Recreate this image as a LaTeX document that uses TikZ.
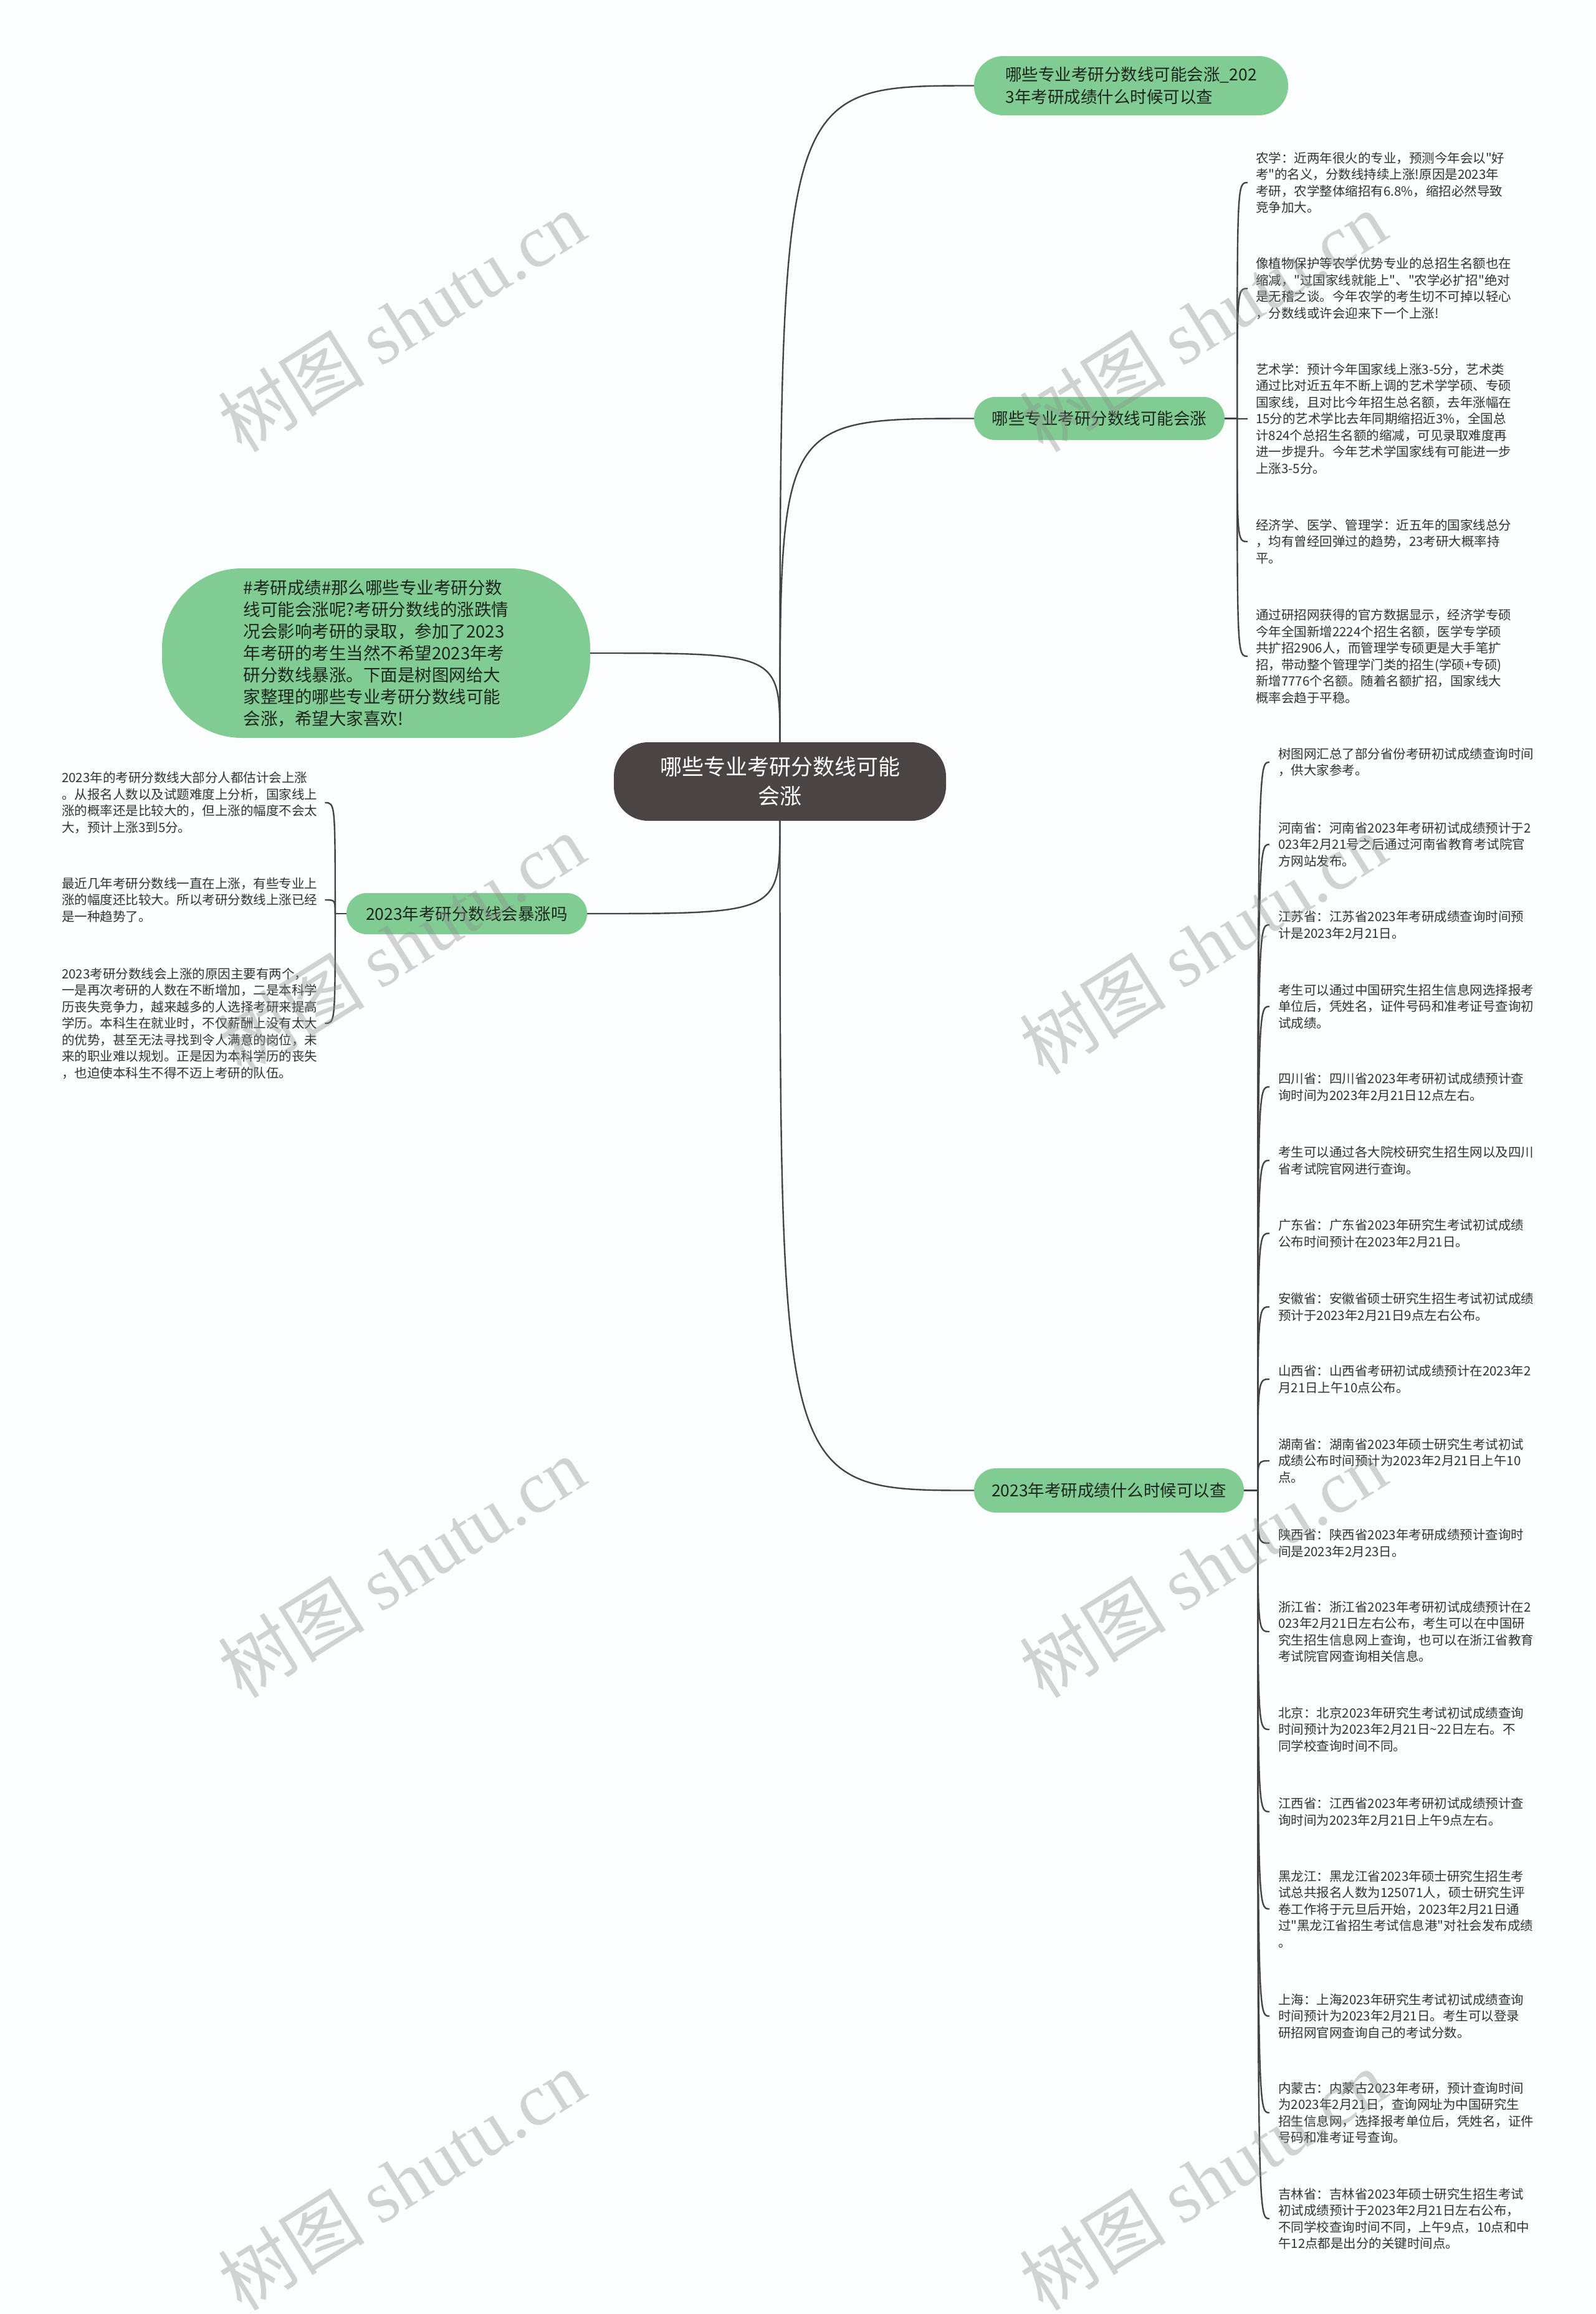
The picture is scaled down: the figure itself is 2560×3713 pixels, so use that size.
\documentclass[tikz,border=0pt]{standalone}
\usepackage{fontspec}
\setmainfont{Noto Sans CJK SC}[Ligatures=TeXOff]
\newfontfamily\wmserif{Liberation Serif}
\usetikzlibrary{calc}
\definecolor{bgc}{HTML}{FBFDFE}
\definecolor{gnode}{HTML}{80CC92}
\definecolor{dnode}{HTML}{4A4445}
\definecolor{edgec}{HTML}{444444}
\definecolor{leaftext}{HTML}{333333}
\definecolor{gtext}{HTML}{1E261F}
\definecolor{wmc}{HTML}{8F8F8F}
\tikzset{
  edge/.style={draw=edgec, line width=2.4},
  centernode/.style={fill=dnode, text=white, rounded corners=55, minimum width=533, minimum height=126, align=center, font=\fontsize{35}{47}\selectfont, inner sep=0},
  bignode/.style={fill=gnode, text=gtext, rounded corners=128, minimum width=687, minimum height=272, align=left, font=\fontsize{27.5}{35}\selectfont, inner sep=0},
  branch/.style={fill=gnode, text=gtext, align=left, font=\fontsize{26.5}{35.5}\selectfont, inner sep=0},
  leaf/.style={anchor=west, align=left, inner sep=0, text=leaftext, font=\fontsize{20.5}{26.5}\selectfont},
  wm/.style={rotate=32, text=wmc, text opacity=0.38, font=\fontsize{118}{130}\selectfont, inner sep=0},
}
\newcommand\mylink[2]{\draw[edge] (#1) .. controls (#1 |- #2) and (#1 |- #2) .. (#2);}
\begin{document}
\begin{tikzpicture}[x=1pt,y=-1pt]
\fill[bgc] (0,0) rectangle (2560,3713);
\useasboundingbox (0,0) rectangle (2560,3713);

% central node
\node[centernode] (c) at (1251.5,1254) {哪些专业考研分数线可能\\会涨};

% left big node
\node[bignode] (big) at (603.5,1048) {\#考研成绩\#那么哪些专业考研分数\\线可能会涨呢?考研分数线的涨跌情\\况会影响考研的录取，参加了2023\\年考研的考生当然不希望2023年考\\研分数线暴涨。下面是树图网给大\\家整理的哪些专业考研分数线可能\\会涨，希望大家喜欢!};

% branches
\node[branch, minimum width=504, minimum height=95, rounded corners=47] (b1) at (1815,137.5) {哪些专业考研分数线可能会涨\_202\\3年考研成绩什么时候可以查};
\node[branch, minimum width=402, minimum height=69, rounded corners=34] (b2) at (1764,671.5) {哪些专业考研分数线可能会涨};
\node[branch, minimum width=433, minimum height=71, rounded corners=35] (b3) at (1779.5,2391.5) {2023年考研成绩什么时候可以查};
\node[branch, minimum width=386, minimum height=66, rounded corners=32.5] (b4) at (749,1466) {2023年考研分数线会暴涨吗};

% center connectors
\draw[edge] (c.north) .. controls (c.north |- b1.west) and (c.north |- b1.west) .. (b1.west);
\draw[edge] (c.north) .. controls (c.north |- b2.west) and (c.north |- b2.west) .. (b2.west);
\draw[edge] (c.north) .. controls (c.north |- big.east) and (c.north |- big.east) .. (big.east);
\draw[edge] (c.south) .. controls (c.south |- b3.west) and (c.south |- b3.west) .. (b3.west);
\draw[edge] (c.south) .. controls (c.south |- b4.east) and (c.south |- b4.east) .. (b4.east);

% branch 2 leaves
\node[leaf] (l21) at (2015,293) {农学：近两年很火的专业，预测今年会以"好\\考"的名义，分数线持续上涨!原因是2023年\\考研，农学整体缩招有6.8\%，缩招必然导致\\竞争加大。};
\node[leaf] (l22) at (2015,463) {像植物保护等农学优势专业的总招生名额也在\\缩减，"过国家线就能上"、"农学必扩招"绝对\\是无稽之谈。今年农学的考生切不可掉以轻心\\，分数线或许会迎来下一个上涨!};
\node[leaf] (l23) at (2015,672) {艺术学：预计今年国家线上涨3-5分，艺术类\\通过比对近五年不断上调的艺术学学硕、专硕\\国家线，且对比今年招生总名额，去年涨幅在\\15分的艺术学比去年同期缩招近3\%，全国总\\计824个总招生名额的缩减，可见录取难度再\\进一步提升。今年艺术学国家线有可能进一步\\上涨3-5分。};
\node[leaf] (l24) at (2015,869) {经济学、医学、管理学：近五年的国家线总分\\，均有曾经回弹过的趋势，23考研大概率持\\平。};
\node[leaf] (l25) at (2015,1053) {通过研招网获得的官方数据显示，经济学专硕\\今年全国新增2224个招生名额，医学专学硕\\共扩招2906人，而管理学专硕更是大手笔扩\\招，带动整个管理学门类的招生(学硕+专硕)\\新增7776个名额。随着名额扩招，国家线大\\概率会趋于平稳。};

\coordinate (j2) at ($(b2.east)+(20,0)$);
\draw[edge] (b2.east) -- (j2);
\foreach \k in {1,...,5} {
  \coordinate (a2\k) at ($(l2\k.west)+(-13,0)$);
  \mylink{j2}{a2\k}
}

% branch 3 leaves
\node[leaf] (l31) at (2051,1223) {树图网汇总了部分省份考研初试成绩查询时间\\，供大家参考。};
\node[leaf] (l32) at (2051,1355) {河南省：河南省2023年考研初试成绩预计于2\\023年2月21号之后通过河南省教育考试院官\\方网站发布。};
\node[leaf] (l33) at (2051,1484) {江苏省：江苏省2023年考研成绩查询时间预\\计是2023年2月21日。};
\node[leaf] (l34) at (2051,1615) {考生可以通过中国研究生招生信息网选择报考\\单位后，凭姓名，证件号码和准考证号查询初\\试成绩。};
\node[leaf] (l35) at (2051,1744) {四川省：四川省2023年考研初试成绩预计查\\询时间为2023年2月21日12点左右。};
\node[leaf] (l36) at (2051,1862) {考生可以通过各大院校研究生招生网以及四川\\省考试院官网进行查询。};
\node[leaf] (l37) at (2051,1979) {广东省：广东省2023年研究生考试初试成绩\\公布时间预计在2023年2月21日。};
\node[leaf] (l38) at (2051,2097) {安徽省：安徽省硕士研究生招生考试初试成绩\\预计于2023年2月21日9点左右公布。};
\node[leaf] (l39) at (2051,2213) {山西省：山西省考研初试成绩预计在2023年2\\月21日上午10点公布。};
\node[leaf] (l310) at (2051,2344) {湖南省：湖南省2023年硕士研究生考试初试\\成绩公布时间预计为2023年2月21日上午10\\点。};
\node[leaf] (l311) at (2051,2476) {陕西省：陕西省2023年考研成绩预计查询时\\间是2023年2月23日。};
\node[leaf] (l312) at (2051,2618) {浙江省：浙江省2023年考研初试成绩预计在2\\023年2月21日左右公布，考生可以在中国研\\究生招生信息网上查询，也可以在浙江省教育\\考试院官网查询相关信息。};
\node[leaf] (l313) at (2051,2775) {北京：北京2023年研究生考试初试成绩查询\\时间预计为2023年2月21日\textasciitilde 22日左右。不\\同学校查询时间不同。};
\node[leaf] (l314) at (2051,2907) {江西省：江西省2023年考研初试成绩预计查\\询时间为2023年2月21日上午9点左右。};
\node[leaf] (l315) at (2051,3063) {黑龙江：黑龙江省2023年硕士研究生招生考\\试总共报名人数为125071人，硕士研究生评\\卷工作将于元旦后开始，2023年2月21日通\\过"黑龙江省招生考试信息港"对社会发布成绩\\。};
\node[leaf] (l316) at (2051,3235) {上海：上海2023年研究生考试初试成绩查询\\时间预计为2023年2月21日。考生可以登录\\研招网官网查询自己的考试分数。};
\node[leaf] (l317) at (2051,3390) {内蒙古：内蒙古2023年考研，预计查询时间\\为2023年2月21日，查询网址为中国研究生\\招生信息网，选择报考单位后，凭姓名，证件\\号码和准考证号查询。};
\node[leaf] (l318) at (2051,3560) {吉林省：吉林省2023年硕士研究生招生考试\\初试成绩预计于2023年2月21日左右公布，\\不同学校查询时间不同，上午9点，10点和中\\午12点都是出分的关键时间点。};

\coordinate (j3) at ($(b3.east)+(22,0)$);
\draw[edge] (b3.east) -- (j3);
\foreach \k in {1,...,18} {
  \coordinate (a3\k) at ($(l3\k.west)+(-14,0)$);
  \mylink{j3}{a3\k}
}

% branch 4 leaves (left)
\node[leaf] (l41) at (99,1288) {2023年的考研分数线大部分人都估计会上涨\\。从报名人数以及试题难度上分析，国家线上\\涨的概率还是比较大的，但上涨的幅度不会太\\大，预计上涨3到5分。};
\node[leaf] (l42) at (99,1444) {最近几年考研分数线一直在上涨，有些专业上\\涨的幅度还比较大。所以考研分数线上涨已经\\是一种趋势了。};
\node[leaf] (l43) at (99,1642) {2023考研分数线会上涨的原因主要有两个，\\一是再次考研的人数在不断增加，二是本科学\\历丧失竞争力，越来越多的人选择考研来提高\\学历。本科生在就业时，不仅薪酬上没有太大\\的优势，甚至无法寻找到令人满意的岗位，未\\来的职业难以规划。正是因为本科学历的丧失\\，也迫使本科生不得不迈上考研的队伍。};

\coordinate (j4) at ($(b4.west)+(-18,0)$);
\draw[edge] (b4.west) -- (j4);
\foreach \k in {1,2,3} {
  \coordinate (a4\k) at ($(l4\k.east)+(12,0)$);
  \mylink{j4}{a4\k}
}

% watermarks
\foreach \wx/\wy [count=\i] in {644/516,1930/516,644/1515,1930/1515,644/2515,1930/2515,644/3498,1930/3498} {
  \node[wm] (wm\i) at (\wx,\wy) {树图 {\wmserif shutu.cn}};
}
\end{tikzpicture}
\end{document}
